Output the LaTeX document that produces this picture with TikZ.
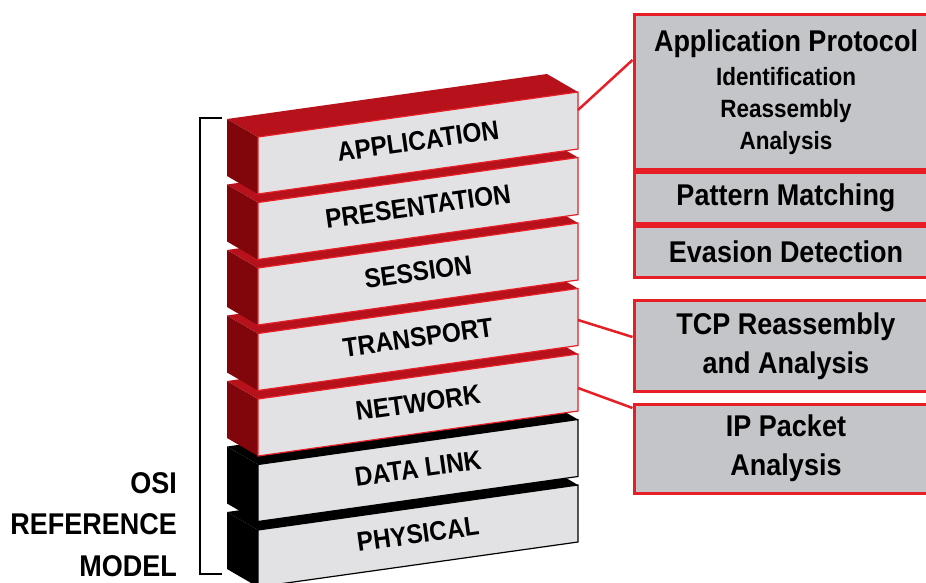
\documentclass[tikz,border=0pt]{standalone}
\usepackage{fontspec}
\setmainfont{Liberation Sans}[FakeStretch=0.9]
\definecolor{layerred}{RGB}{183,18,27}
\definecolor{layerdark}{RGB}{128,6,12}
\definecolor{layerface}{RGB}{226,226,229}
\definecolor{boxfill}{RGB}{196,197,201}
\definecolor{boxred}{RGB}{232,30,38}
\begin{document}
\begin{tikzpicture}[x=1pt,y=1pt]
\tikzstyle{every node}+=[inner sep=0pt]
\tikzstyle{redtop}=[fill=layerred]
\tikzstyle{redside}=[fill=layerdark]
\tikzstyle{redfront}=[fill=layerface, draw=boxred, line width=1.2pt]
\tikzstyle{blacktop}=[fill=black]
\tikzstyle{blackfront}=[fill=layerface, draw=black, line width=1.2pt]
\tikzstyle{layerlabel}=[rotate=8, font=\bfseries\fontsize{27}{30}\selectfont]
\tikzstyle{infobox}=[draw=boxred, line width=3pt, fill=boxfill, minimum width=304pt, align=center, font=\bfseries\fontsize{30}{39}\selectfont]
\tikzstyle{redlink}=[draw=boxred, line width=2.5pt]
\useasboundingbox (0,0) rectangle (926,-583);
\clip (0,0) rectangle (926,-583);
% physical
\fill [blacktop] (258,-530) -- (227,-512) -- (227,-569) -- (258,-587) -- cycle;
\fill [blacktop] (258,-530) -- (578,-485) -- (547,-467) -- (227,-512) -- cycle;
\filldraw [blackfront] (258,-530) -- (578,-485) -- (578,-542) -- (258,-587) -- cycle;
\node [layerlabel] (phys) at (418,-534) {PHYSICAL};
% data link
\fill [blacktop] (258,-464.5) -- (227,-446.5) -- (227,-503.5) -- (258,-521.5) -- cycle;
\fill [blacktop] (258,-464.5) -- (578,-419.5) -- (547,-401.5) -- (227,-446.5) -- cycle;
\filldraw [blackfront] (258,-464.5) -- (578,-419.5) -- (578,-476.5) -- (258,-521.5) -- cycle;
\node [layerlabel] (datalink) at (418,-468.5) {DATA LINK};
% network
\fill [redside] (258,-399) -- (227,-381) -- (227,-438) -- (258,-456) -- cycle;
\fill [redtop] (258,-399) -- (578,-354) -- (547,-336) -- (227,-381) -- cycle;
\filldraw [redfront] (258,-399) -- (578,-354) -- (578,-411) -- (258,-456) -- cycle;
\node [layerlabel] (net) at (418,-403) {NETWORK};
\coordinate (nettip) at (578,-388);
% transport
\fill [redside] (258,-333.5) -- (227,-315.5) -- (227,-372.5) -- (258,-390.5) -- cycle;
\fill [redtop] (258,-333.5) -- (578,-288.5) -- (547,-270.5) -- (227,-315.5) -- cycle;
\filldraw [redfront] (258,-333.5) -- (578,-288.5) -- (578,-345.5) -- (258,-390.5) -- cycle;
\node [layerlabel] (trans) at (418,-337.5) {TRANSPORT};
\coordinate (transtip) at (578,-320);
% session
\fill [redside] (258,-268) -- (227,-250) -- (227,-307) -- (258,-325) -- cycle;
\fill [redtop] (258,-268) -- (578,-223) -- (547,-205) -- (227,-250) -- cycle;
\filldraw [redfront] (258,-268) -- (578,-223) -- (578,-280) -- (258,-325) -- cycle;
\node [layerlabel] (sess) at (418,-272) {SESSION};
% presentation
\fill [redside] (258,-202.5) -- (227,-184.5) -- (227,-241.5) -- (258,-259.5) -- cycle;
\fill [redtop] (258,-202.5) -- (578,-157.5) -- (547,-139.5) -- (227,-184.5) -- cycle;
\filldraw [redfront] (258,-202.5) -- (578,-157.5) -- (578,-214.5) -- (258,-259.5) -- cycle;
\node [layerlabel] (pres) at (418,-206.5) {PRESENTATION};
% application
\fill [redside] (258,-137) -- (227,-119) -- (227,-176) -- (258,-194) -- cycle;
\fill [redtop] (258,-137) -- (578,-92) -- (547,-74) -- (227,-119) -- cycle;
\filldraw [redfront] (258,-137) -- (578,-92) -- (578,-149) -- (258,-194) -- cycle;
\node [layerlabel] (app) at (418,-141) {APPLICATION};
\coordinate (apptip) at (578,-110);
% bracket and model name
\draw [line width=2.5pt] (222,-118) -- (200,-118) -- (200,-574) -- (222,-574);
\node [anchor=east, align=right, font=\bfseries\fontsize{30}{41.5}\selectfont] (osilabel) at (177,-524.5) {OSI\\REFERENCE\\MODEL};
% inspection boxes
\node [infobox, minimum height=154pt, font=\bfseries\fontsize{25}{32}\selectfont] (appbox) at (786,-92) {{\fontsize{30}{34}\selectfont Application Protocol}\\[2pt]Identification\\Reassembly\\Analysis};
\node [infobox, minimum height=51pt] (patbox) at (786,-198) {Pattern Matching};
\node [infobox, minimum height=51pt] (evabox) at (786,-251.5) {Evasion Detection};
\node [infobox, minimum height=90.5pt] (tcpbox) at (786,-345.75) {TCP Reassembly\\and Analysis};
\node [infobox, minimum height=89pt] (ipbox) at (786,-448.5) {IP Packet\\Analysis};
\draw [redlink] (apptip) -- ([yshift=32pt]appbox.west);
\draw [redlink] (transtip) -- ([yshift=8.75pt]tcpbox.west);
\draw [redlink] (nettip) -- ([yshift=40.5pt]ipbox.west);
\end{tikzpicture}
\end{document}
